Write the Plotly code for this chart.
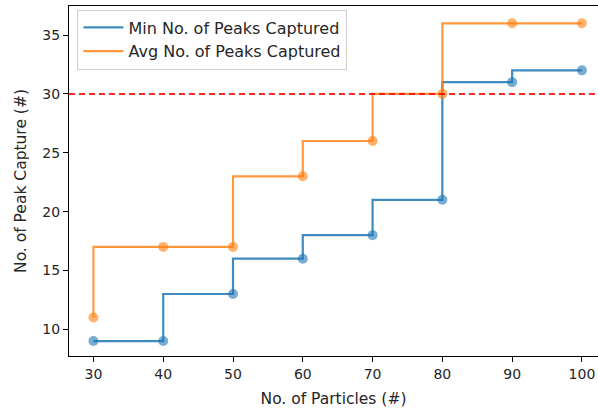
import plotly.graph_objects as go

particles = [30, 40, 50, 60, 70, 80, 90, 100]
min_peaks = [9, 9, 13, 16, 18, 21, 31, 32]
avg_peaks = [11, 17, 17, 23, 26, 30, 36, 36]
threshold = 30
x_ticks = [30, 40, 50, 60, 70, 80, 90, 100]
y_ticks = [10, 15, 20, 25, 30, 35]

blue = "rgba(31,119,180,0.85)"
orange = "rgba(255,127,14,0.8)"
blue_m = "rgba(31,119,180,0.6)"
orange_m = "rgba(255,127,14,0.6)"

fig = go.Figure()
fig.add_trace(go.Scatter(x=particles, y=min_peaks, mode="lines", line_shape="vh",
                         line=dict(color=blue, width=2.2), name="Min No. of Peaks Captured"))
fig.add_trace(go.Scatter(x=particles, y=avg_peaks, mode="lines", line_shape="vh",
                         line=dict(color=orange, width=2.2), name="Avg No. of Peaks Captured"))
fig.add_trace(go.Scatter(x=particles, y=min_peaks, mode="markers",
                         marker=dict(color=blue_m, size=10), showlegend=False, hoverinfo="skip"))
fig.add_trace(go.Scatter(x=particles, y=avg_peaks, mode="markers",
                         marker=dict(color=orange_m, size=10), showlegend=False, hoverinfo="skip"))
fig.add_hline(y=threshold, line=dict(color="rgba(255,0,0,0.85)", width=2, dash="6px,4px"))

font = "DejaVu Sans"
fig.update_layout(
    template="none",
    width=598, height=409,
    margin=dict(l=69, r=0, t=6, b=53, pad=0),
    paper_bgcolor="white", plot_bgcolor="white",
    font=dict(family=font, size=14, color="#262626"),
    legend=dict(x=0.016, y=0.99, xanchor="left", yanchor="top", itemwidth=40,
                bordercolor="#d0d0d0", borderwidth=1, bgcolor="rgba(255,255,255,0.8)",
                font=dict(size=16, color="#262626"), tracegroupgap=0),
    xaxis=dict(range=[26.5, 102.3], tickvals=x_ticks, showgrid=False, zeroline=False,
               automargin=False,
               showline=True, linecolor="black", linewidth=1, mirror=True,
               ticks="outside", ticklen=5, tickcolor="black",
               tickfont=dict(size=14),
               title=dict(text="No. of Particles (#)", font=dict(size=15.5), standoff=12)),
    yaxis=dict(range=[7.73, 37.47], tickvals=y_ticks, showgrid=False, zeroline=False,
               automargin=False,
               showline=True, linecolor="black", linewidth=1,
               ticks="outside", ticklen=5, tickcolor="black",
               tickfont=dict(size=14),
               title=dict(text="No. of Peak Capture (#)", font=dict(size=15.5), standoff=11)),
)
fig.write_html("out.html", config={"displayModeBar": False},
               post_script="document.body.style.margin='0';document.body.style.overflow='hidden';")
